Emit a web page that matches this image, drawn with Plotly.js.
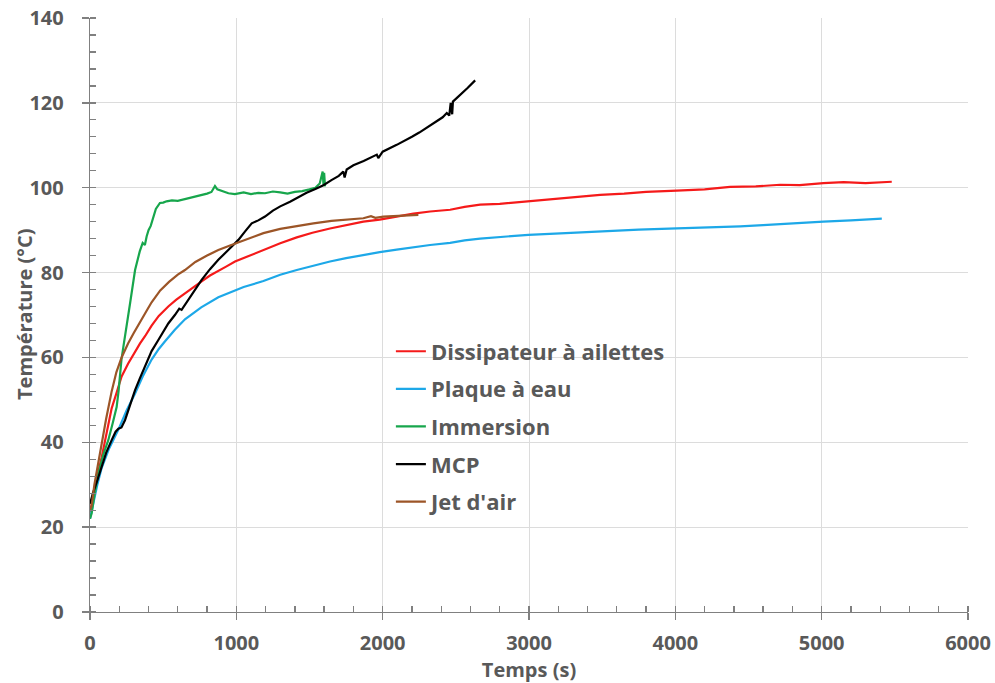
<!DOCTYPE html>
<html>
<head>
<meta charset="utf-8">
<script src="https://cdn.plot.ly/plotly-3.0.1.min.js"></script>
<style>html,body{margin:0;padding:0;background:#fff;}#chart{width:995px;height:683px;}</style>
</head>
<body>
<div id="chart"></div>
<script>
// Dissipateur à ailettes
const redT = [0,20,50,80,110,148,180,216,260,308,342,376,421,470,535,590,649,700,763,820,877,930,991,1090,1196,1300,1413,1520,1640,1750,1868,1980,2096,2210,2324,2461,2560,2666,2800,2996,3150,3300,3486,3650,3800,4010,4200,4374,4550,4716,4850,5012,5150,5300,5479];
const redY = [23.5,27,32,36.5,41.5,48,51.5,55.5,58.5,61.5,63.3,65,67.5,69.8,72,73.6,75.1,76.5,77.9,79.3,80.3,81.4,82.6,84,85.4,86.9,88.3,89.4,90.4,91.2,92,92.5,93.2,93.9,94.4,94.8,95.5,96,96.2,96.8,97.4,97.8,98.3,98.6,99,99.3,99.6,100.2,100.3,100.7,100.6,101.1,101.3,101.1,101.4];
// Plaque à eau
const blueT = [0,20,50,80,130,194,250,308,360,421,470,513,580,649,760,877,957,1050,1185,1300,1413,1530,1640,1750,1868,1980,2096,2210,2324,2461,2560,2666,2800,2996,3250,3486,3750,4010,4250,4443,4600,4784,5012,5200,5411];
const blueY = [22,25.5,30,34,38.5,43,47.5,51.5,55.5,59.5,62,63.8,66.5,69,71.8,74.2,75.3,76.6,78,79.5,80.6,81.7,82.6,83.4,84.2,84.8,85.4,86,86.5,87,87.6,88,88.4,88.9,89.3,89.7,90.1,90.4,90.6,90.9,91.2,91.6,92,92.3,92.7];
// Immersion
const greenT = [0,11,30,57,90,125,155,182,195,205,215,228,250,275,308,340,360,375,387,400,415,430,450,478,500,523,560,600,649,700,750,800,830,854,870,900,946,990,1050,1100,1150,1196,1250,1300,1350,1400,1450,1500,1540,1570,1590,1596,1600,1606];
const greenY = [22,23.2,27.5,32.6,37,40.5,44.5,48.3,52,56.2,59.5,62.5,68,73,80.6,85,87,86.5,88.5,90,91,93,95,96.4,96.5,96.8,97,96.9,97.3,97.8,98.2,98.6,99,100.4,99.6,99.3,98.7,98.5,98.9,98.5,98.8,98.7,99.1,98.9,98.6,99,99.2,99.6,100,101,103.8,100.5,103.5,100.3];
// MCP
const blackT = [0,20,50,80,110,148,175,194,215,239,270,308,340,376,421,467,500,535,580,610,626,650,700,763,820,877,950,1014,1060,1105,1150,1196,1250,1300,1367,1420,1480,1540,1595,1650,1700,1731,1740,1754,1800,1870,1936,1960,1970,2000,2096,2150,2200,2250,2301,2360,2410,2438,2455,2465,2470,2475,2480,2520,2580,2632];
const blackY = [25.5,28,31,34.2,37.5,40.5,42.5,43.2,43.5,45.2,48.5,52.3,55,57.8,61.5,64.1,66,68,70,71.5,71.2,72.5,75,78.3,80.8,83,85.5,87.7,89.7,91.6,92.3,93.2,94.6,95.6,96.7,97.7,98.8,99.7,100.6,101.8,102.8,103.8,102.4,104.3,105.3,106.3,107.4,107.8,107,108.5,110.1,111,112,113,114.1,115.5,116.6,117.6,117,120,118,117.3,120.3,121.5,123.5,125.3];
// Jet d'air
const brownT = [0,11,30,50,80,110,148,180,216,260,300,340,387,421,480,540,600,649,720,800,877,957,1050,1185,1300,1413,1527,1650,1750,1868,1920,1950,2005,2100,2180,2244];
const brownY = [24,25,30,34,40.5,45.5,52,56.5,60,63.3,65.8,68.3,71,73,75.8,77.8,79.5,80.6,82.5,84,85.3,86.4,87.6,89.3,90.3,91,91.6,92.2,92.5,92.8,93.3,92.9,93.2,93.3,93.5,93.6];

const names = ['Dissipateur à ailettes','Plaque à eau','Immersion','MCP',"Jet d'air"];
const colors = ['#F51A1A','#1DA8E8','#17A64C','#000000','#9C5527'];
const xs = [redT, blueT, greenT, blackT, brownT];
const ys = [redY, blueY, greenY, blackY, brownY];

const traces = names.map((n,i)=>({
  type:'scatter', mode:'lines', name:n, x:xs[i], y:ys[i],
  line:{color:colors[i], width:2.2}, legendgroup:'g'+i
}));
const FONT = '"Open Sans", Lato, sans-serif';
const TC = '#595959';
const AX = '#808080';
const layout = {
  width:995, height:683,
  margin:{l:90, r:27, t:18, b:71, pad:0},
  paper_bgcolor:'#fff', plot_bgcolor:'#fff',
  showlegend:true,
  legend:{x:0.3427, y:0.474, xanchor:'left', yanchor:'top', bgcolor:'rgba(0,0,0,0)',
    font:{family:FONT, size:22, color:TC, weight:700}, traceorder:'grouped', tracegroupgap:6, itemwidth:30},
  xaxis:{range:[0,6000], dtick:1000, tick0:0, showgrid:true, gridcolor:'#dcdcdc', gridwidth:1,
    zeroline:false, showline:true, linecolor:AX, linewidth:1.3,
    ticks:'outside', ticklen:7, tickcolor:AX, tickwidth:1.3,
    minor:{dtick:200, ticks:'inside', ticklen:6, tickcolor:AX, tickwidth:1.3, showgrid:false},
    tickfont:{family:FONT, size:20, color:TC, weight:700}, ticklabelstandoff:6,
    title:{text:'Temps (s)', font:{family:FONT, size:20, color:TC, weight:700}, standoff:7}},
  yaxis:{range:[0,140], dtick:20, tick0:0, showgrid:true, gridcolor:'#dcdcdc', gridwidth:1,
    zeroline:false, showline:true, linecolor:AX, linewidth:1.3,
    ticks:'outside', ticklen:7, tickcolor:AX, tickwidth:1.3,
    minor:{dtick:4, ticks:'inside', ticklen:6, tickcolor:AX, tickwidth:1.3, showgrid:false},
    tickfont:{family:FONT, size:20, color:TC, weight:700}, ticklabelstandoff:14},
  xaxis2:{overlaying:'x', anchor:'y', range:[0,6000], dtick:1000, tick0:0, ticks:'inside', ticklen:7,
    tickcolor:AX, tickwidth:1.3, showticklabels:false, showgrid:false, zeroline:false, showline:false},
  yaxis2:{overlaying:'y', anchor:'x', side:'left', range:[0,140], dtick:20, tick0:0, ticks:'inside', ticklen:7,
    tickcolor:AX, tickwidth:1.3, showticklabels:false, showgrid:false, zeroline:false, showline:false},
  annotations:[{text:'Température (°C)', xref:'paper', yref:'paper', x:(24-90)/878, y:0.5,
    xanchor:'center', yanchor:'middle', textangle:-90, showarrow:false,
    font:{family:FONT, size:20, color:TC, weight:700}}]
};
Plotly.newPlot('chart', traces, layout, {displayModeBar:false, staticPlot:true});
</script>
</body>
</html>
